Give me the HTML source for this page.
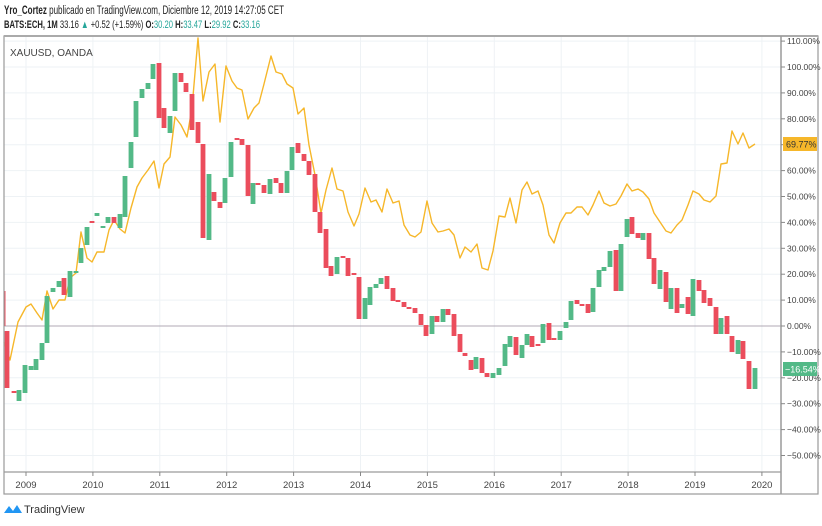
<!DOCTYPE html>
<html><head><meta charset="utf-8"><style>
body{margin:0;background:#fff;font-family:"Liberation Sans",sans-serif;}
svg{display:block}
text{font-family:"Liberation Sans",sans-serif;}
</style></head><body>
<svg id="s" width="822" height="526" xmlns="http://www.w3.org/2000/svg">
<rect width="822" height="526" fill="#fff"/>
<text x="4" y="14" font-size="11.5" fill="#222" textLength="280" lengthAdjust="spacingAndGlyphs"><tspan font-weight="bold">Yro_Cortez</tspan> publicado en TradingView.com, Diciembre 12, 2019 14:27:05 CET</text>
<text x="4" y="28" font-size="11" fill="#222" textLength="256" lengthAdjust="spacingAndGlyphs"><tspan font-weight="bold">BATS:ECH, 1M</tspan> 33.16 <tspan fill="#26a69a">▲</tspan> +0.52 (+1.59%) <tspan font-weight="bold">O:</tspan><tspan fill="#26a69a">30.20</tspan> <tspan font-weight="bold">H:</tspan><tspan fill="#26a69a">33.47</tspan> <tspan font-weight="bold">L:</tspan><tspan fill="#26a69a">29.92</tspan> <tspan font-weight="bold">C:</tspan><tspan fill="#26a69a">33.16</tspan></text>
<g id="grid"></g>
<line x1="4" y1="326" x2="781" y2="326" stroke="#b0a8b4" stroke-width="1"/>
<g id="gold"></g>
<g id="candles"></g>
<rect x="4" y="36" width="814" height="458" fill="none" stroke="#9a9a9a" stroke-width="1.2"/>
<line x1="4" y1="36" x2="818" y2="36" stroke="#aaa" stroke-width="2"/>
<line x1="781" y1="36" x2="781" y2="494" stroke="#9a9a9a" stroke-width="1.5"/>
<line x1="4" y1="472" x2="781" y2="472" stroke="#9a9a9a" stroke-width="1.2"/>
<text x="10" y="56" font-size="10" fill="#444">XAUUSD, OANDA</text>
<g id="axis"></g>
<rect x="783" y="137" width="34" height="14" fill="#f6b72a"/>
<text x="786" y="147.5" font-size="9" fill="#333">69.77%</text>
<rect x="783" y="362" width="34" height="14" fill="#53b987"/>
<text x="785" y="372.5" font-size="9" fill="#fff">−16.54%</text>
<g transform="translate(4,503)">
<path d="M0,10 L5,3 L9,8 L13,2 L18,10 Z" fill="#2196f3"/>
<text x="20" y="10" font-size="11" fill="#333">TradingView</text>
</g>
</svg>
<script>
var NS="http://www.w3.org/2000/svg";
function el(p,t,a){var e=document.createElementNS(NS,t);for(var k in a)e.setAttribute(k,a[k]);document.getElementById(p).appendChild(e);return e;}
for(var p=110;p>=-50;p-=10){var y=326-2.59*p;
 if(p!==0)el("grid","line",{x1:4,y1:y,x2:781,y2:y,stroke:"#eef2f5","stroke-width":1});
 el("axis","line",{x1:781,y1:y,x2:785,y2:y,stroke:"#888"});
 var t=el("axis","text",{x:787,y:y+3,"font-size":"8.5",fill:"#444"});t.textContent=(p<0?"−":"")+Math.abs(p).toFixed(2)+"%";}
var yrs=[2009,2010,2011,2012,2013,2014,2015,2016,2017,2018,2019,2020];
yrs.forEach(function(yr,i){var x=26+i*66.9;
 el("grid","line",{x1:x,y1:36,x2:x,y2:472,stroke:"#eef2f5"});
 el("axis","line",{x1:x,y1:472,x2:x,y2:476,stroke:"#888"});
 var t=el("axis","text",{x:x,y:488,"font-size":"9.5","text-anchor":"middle",fill:"#444"});t.textContent=yr;});
var g=[[4,342],[10,360],[18,322],[26,307],[31,304],[37,313],[42,320],[47,291],[53,309],[59,300],[65,300],[70,278],[76,273],[81,232],[87,258],[92,262],[97,252],[104,252],[109,230],[114,220],[120,229],[125,233],[131,208],[137,187],[142,178],[148,170],[154,161],[159,188],[164,164],[170,157],[175,117],[181,125],[187,137],[192,108],[198,38],[203,101],[209,72],[215,64],[220,122],[226,66],[232,81],[237,88],[242,90],[248,119],[254,108],[259,103],[264,84],[271,56],[276,72],[282,74],[287,84],[293,88],[298,114],[304,108],[309,145],[315,175],[321,213],[326,190],[332,168],[337,189],[343,191],[348,212],[354,226],[359,214],[365,188],[371,202],[376,200],[382,212],[387,189],[393,203],[399,201],[404,225],[410,235],[415,237],[421,232],[427,201],[432,223],[438,232],[443,231],[449,229],[454,235],[460,258],[465,247],[471,252],[477,244],[482,268],[488,270],[493,251],[499,216],[505,217],[510,198],[516,223],[522,190],[527,182],[532,194],[538,191],[543,205],[549,235],[554,243],[560,223],[566,213],[571,213],[577,207],[582,207],[588,215],[593,205],[599,191],[604,203],[610,206],[616,204],[621,196],[627,184],[632,191],[638,189],[643,192],[649,199],[654,213],[660,222],[666,231],[671,233],[677,225],[682,220],[688,205],[693,191],[699,194],[704,200],[710,202],[716,196],[721,164],[727,163],[732,131],[738,144],[743,133],[749,148],[755,144]];
el("gold","polyline",{points:g.map(function(a){return a.join(",")}).join(" "),fill:"none",stroke:"#f6b72a","stroke-width":1.4,"stroke-linejoin":"round"});
var c=[[7,331,388],[14,391,393],[19,401,390],[25,393,365],[31,370,366],[36,370,359],[42,360,343],[47,343,296],[53,292,288],[59,287,281],[64,278,295],[70,297,271],[76,273,271],[81,263,248],[87,245,227],[92,221,222],[97,216,213],[103,228,226],[108,223,217],[114,217,223],[120,228,214],[125,217,176],[131,168,142],[136,137,101],[142,98,89],[148,89,83],[153,79,64],[159,63,118],[164,108,128],[170,133,116],[175,111,73],[181,73,82],[186,83,92],[192,94,130],[198,122,143],[203,144,238],[209,240,174],[214,192,201],[220,202,208],[225,203,178],[231,177,142],[237,138,139],[242,139,145],[248,145,196],[253,204,183],[258,183,185],[264,185,193],[270,194,179],[276,178,183],[281,183,193],[287,193,171],[292,170,147],[298,143,153],[304,154,161],[309,161,175],[315,174,212],[320,212,233],[326,229,268],[331,266,276],[337,274,257],[343,256,258],[348,258,276],[354,273,274],[359,277,319],[365,319,298],[370,305,287],[376,288,284],[381,284,278],[387,276,289],[393,288,301],[398,300,302],[404,302,307],[409,307,308],[415,308,313],[421,314,325],[426,325,336],[432,334,316],[437,316,322],[443,322,309],[448,309,315],[454,314,336],[460,334,352],[465,353,356],[471,360,370],[476,369,357],[482,358,373],[487,373,377],[493,378,373],[499,375,368],[505,366,344],[510,347,336],[516,337,355],[522,358,345],[527,345,334],[532,336,347],[538,344,345],[543,343,324],[549,323,340],[554,338,340],[560,340,331],[566,328,322],[571,320,301],[577,300,304],[582,304,305],[588,304,313],[593,312,288],[599,287,270],[604,271,267],[610,267,251],[616,250,291],[621,291,244],[627,237,219],[632,217,234],[638,233,238],[643,240,233],[649,233,259],[654,258,284],[660,289,270],[666,272,302],[671,309,288],[677,288,313],[682,308,304],[688,297,314],[693,316,279],[699,280,291],[704,290,303],[710,298,306],[716,307,334],[721,334,318],[727,316,334],[732,336,352],[738,354,340],[743,341,359],[749,361,389],[755,389,368]];
c.forEach(function(k){var up=k[2]<k[1];var t=Math.min(k[1],k[2]),h=Math.max(Math.abs(k[1]-k[2]),2);
 el("candles","rect",{x:k[0]-2.4,y:t,width:4.8,height:h,fill:up?"#53b987":"#eb4d5c"});});
el("candles","rect",{x:4,y:291,width:1.5,height:35,fill:"#eb4d5c"});
</script>
</body></html>
